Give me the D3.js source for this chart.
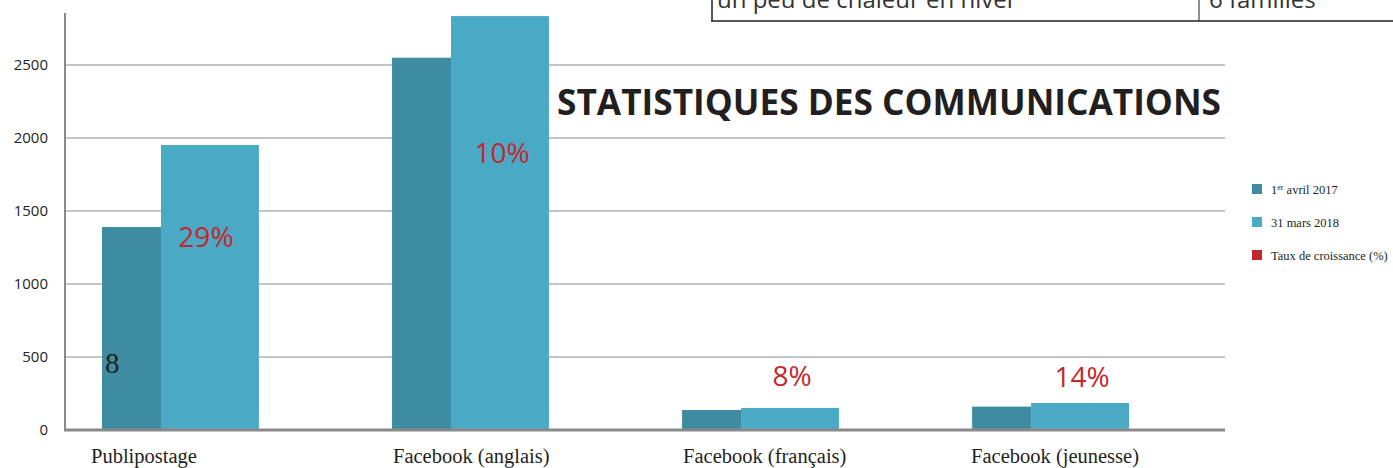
<!DOCTYPE html>
<html>
<head>
<meta charset="utf-8">
<script src="https://cdn.jsdelivr.net/npm/d3@7"></script>
<style>
  html, body { margin: 0; padding: 0; background: #ffffff; }
  svg { display: block; }
</style>
</head>
<body>
<svg id="chart" width="1393" height="468"></svg>
<script>
// ---- data ----
const categories = ["Publipostage", "Facebook (anglais)", "Facebook (français)", "Facebook (jeunesse)"];
const values2017 = [1390, 2550, 137, 160];
const values2018 = [1952, 2835, 151, 185];
const growthLabels = ["29%", "10%", "8%", "14%"];
const growthLabelAt = [1255, 1830, 300, 295];   // value level where the growth label sits
const yTicks = [0, 500, 1000, 1500, 2000, 2500];
const legendLabels = ["1er avril 2017", "31 mars 2018", "Taux de croissance (%)"];
const tableTexts = ["un peu de chaleur en hiver", "6 familles"];

// ---- layout ----
const colDark = "#3e8ca2", colLight = "#4aaac5", colRed = "#c4262e";
const svg = d3.select("#chart");

const y = d3.scaleLinear().domain([0, 2500]).range([430, 65]);
const x = d3.scaleBand().domain(categories).range([102, 1129]).paddingInner(0.459).paddingOuter(0);
const bw = x.bandwidth();
const darkFrac = 0.376;

// gridlines
svg.append("g").selectAll("line").data(yTicks.filter(d => d > 0)).join("line")
  .attr("x1", 65).attr("x2", 1225)
  .attr("y1", d => y(d)).attr("y2", d => y(d))
  .attr("stroke", "#8c8c8c").attr("stroke-width", 1.2);

// y tick labels
svg.append("g").selectAll("text").data(yTicks).join("text")
  .attr("x", 48).attr("y", d => y(d)).attr("dy", "0.36em")
  .attr("text-anchor", "end")
  .attr("font-family", "'Open Sans', sans-serif").attr("font-size", 15)
  .attr("fill", "#231f20")
  .text(d => d);

// bars
const groups = svg.append("g").selectAll("g").data(categories).join("g");
groups.append("rect")
  .attr("x", d => x(d)).attr("width", bw * darkFrac)
  .attr("y", (d, i) => y(values2017[i])).attr("height", (d, i) => y(0) - y(values2017[i]))
  .attr("fill", colDark);
groups.append("rect")
  .attr("x", d => x(d) + bw * darkFrac).attr("width", bw * (1 - darkFrac))
  .attr("y", (d, i) => y(values2018[i])).attr("height", (d, i) => y(0) - y(values2018[i]))
  .attr("fill", colLight);

// growth labels
groups.append("text")
  .attr("x", (d, i) => x(d) + bw * darkFrac + bw * (1 - darkFrac) / 2 + (i === 0 ? -4 : 2))
  .attr("y", (d, i) => y(growthLabelAt[i]))
  .attr("text-anchor", "middle")
  .attr("font-family", "'Open Sans', sans-serif").attr("font-size", 28)
  .attr("fill", colRed)
  .text((d, i) => growthLabels[i]);

// stray "8" label
svg.append("text")
  .attr("x", x(categories[0]) + 3).attr("y", 373)
  .attr("font-family", "'Liberation Serif', serif").attr("font-size", 29)
  .attr("fill", "#231f20").text("8");

// axes lines
svg.append("line").attr("x1", 65).attr("x2", 65).attr("y1", 13).attr("y2", 431)
  .attr("stroke", "#8a8a8a").attr("stroke-width", 2);
svg.append("line").attr("x1", 64).attr("x2", 1225).attr("y1", y(0)).attr("y2", y(0))
  .attr("stroke", "#8a8a8a").attr("stroke-width", 3);

// x labels
svg.append("g").selectAll("text").data(categories).join("text")
  .attr("x", (d, i) => i === 0 ? x(d) - 11 : x(d) + (i === 3 ? -1 : 1))
  .attr("y", 463)
  .attr("font-family", "'Liberation Serif', serif").attr("font-size", 20.5)
  .attr("fill", "#231f20")
  .text(d => d);

// title
svg.append("text")
  .attr("x", 557).attr("y", 115)
  .attr("font-family", "'Open Sans', sans-serif").attr("font-weight", 700).attr("font-size", 35)
  .attr("textLength", 664).attr("lengthAdjust", "spacingAndGlyphs")
  .attr("fill", "#231f20")
  .text("STATISTIQUES  DES COMMUNICATIONS");

// legend
const legColors = [colDark, colLight, colRed];
const legY = [194, 227, 260];
const leg = svg.append("g").selectAll("g").data(legendLabels).join("g");
leg.append("rect").attr("x", 1252).attr("y", (d, i) => legY[i] - 10).attr("width", 10).attr("height", 10)
  .attr("fill", (d, i) => legColors[i]);
leg.each(function (d, i) {
  const t = d3.select(this).append("text")
    .attr("x", 1271).attr("y", legY[i])
    .attr("font-family", "'Liberation Serif', serif").attr("font-size", 12.5)
    .attr("fill", "#231f20");
  if (i === 0) {
    t.append("tspan").text("1");
    t.append("tspan").attr("dy", -4).attr("font-size", 8).text("er");
    t.append("tspan").attr("dy", 4).text(" avril 2017");
  } else {
    t.text(d);
  }
});

// partial table at top
svg.append("line").attr("x1", 712).attr("x2", 712).attr("y1", 0).attr("y2", 21).attr("stroke", "#231f20").attr("stroke-width", 1.5);
svg.append("line").attr("x1", 711).attr("x2", 1393).attr("y1", 21).attr("y2", 21).attr("stroke", "#231f20").attr("stroke-width", 1.5);
svg.append("line").attr("x1", 1199).attr("x2", 1199).attr("y1", 0).attr("y2", 21).attr("stroke", "#231f20").attr("stroke-width", 1);
svg.append("text").attr("x", 717).attr("y", 8)
  .attr("font-family", "'Open Sans', sans-serif").attr("font-size", 24).attr("fill", "#333333")
  .text(tableTexts[0]);
svg.append("text").attr("x", 1209).attr("y", 8)
  .attr("font-family", "'Open Sans', sans-serif").attr("font-size", 24).attr("fill", "#333333")
  .text(tableTexts[1]);
</script>
</body>
</html>
